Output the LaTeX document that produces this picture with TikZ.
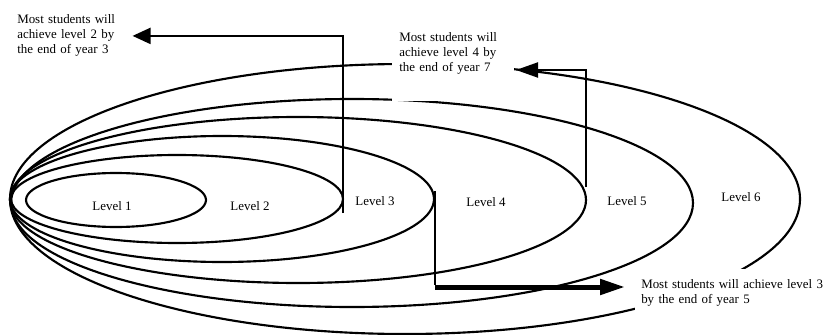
\documentclass[tikz,border=0pt]{standalone}
\usepackage{fontspec}
\setmainfont{Liberation Serif}
\usetikzlibrary{arrows.meta}

\begin{document}
\begin{tikzpicture}[x=0.75pt, y=-0.75pt,
  every node/.style={font=\fontsize{9.7pt}{11.25pt}\selectfont},
  ring/.style={line width=1.6pt},
  levellabel/.style={anchor=base, inner sep=0pt},
  note/.style={fill=white, anchor=base west, inner xsep=5.25pt, inner ysep=0pt, text width=81pt, align=left},
  pointer/.style={line width=1.6pt},
  bigpointer/.style={line width=3.75pt}]
  \useasboundingbox (0,0) rectangle (824,335);

  %% Nested level rings
  \draw[ring] (116,200) ellipse [x radius=90,  y radius=27];
  \draw[ring] (177,199) ellipse [x radius=166, y radius=44];
  \draw[ring] (222,199) ellipse [x radius=212, y radius=63];
  \draw[ring] (298,200) ellipse [x radius=288, y radius=83];
  \draw[ring] (352,203) ellipse [x radius=341, y radius=104];
  \draw[ring] (405,199) ellipse [x radius=395, y radius=135];

  %% Level labels
  \node[levellabel] (l1) at (112,210) {Level 1};
  \node[levellabel] (l2) at (250,210) {Level 2};
  \node[levellabel] (l3) at (375,205) {Level 3};
  \node[levellabel] (l4) at (486,206) {Level 4};
  \node[levellabel] (l5) at (627,205) {Level 5};
  \node[levellabel] (l6) at (741,201) {Level 6};

  %% Notes (white boxes hide the rings behind them)
  \node[note] (note2) at (10,24) {Most students will\\achieve level 2 by\\the end of year 3};
  \node[note, text height=12.75pt, text depth=44.25pt] (note4) at (392,42)
    {Most students will\\achieve level 4 by\\the end of year 7};
  \node[note, inner xsep=4.5pt, text width=150pt, text height=14.25pt, text depth=24pt] (note3) at (635,288)
    {Most students will achieve level 3\\by the end of year 5};

  %% Pointers from the rings to the notes
  \coordinate (p2) at (343,213);
  \coordinate (p4) at (586,187);
  \coordinate (tip4) at (516,70);
  \coordinate (p3) at (435,191);
  \coordinate (k3) at (435,285);
  \coordinate (tip3) at (625,287);

  \draw[pointer, -{Triangle[length=13.5pt, width=12pt]}] (p2) |- (note2.east);
  \draw[pointer, -{Triangle[length=16.5pt, width=11.25pt]}] (p4) |- (tip4);
  \draw[pointer] (p3) -- (k3);
  \draw[bigpointer, -{Triangle[length=18.75pt, width=11.25pt]}] (k3 |- tip3) -- (tip3);
\end{tikzpicture}
\end{document}
